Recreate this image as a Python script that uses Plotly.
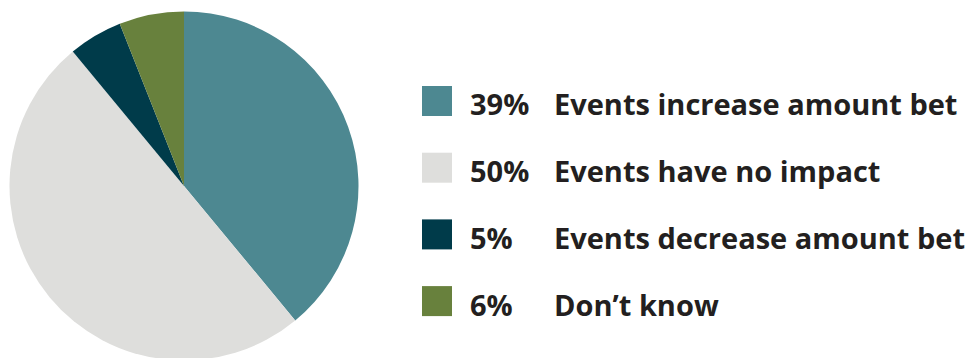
import plotly.graph_objects as go

# Survey breakdown: effect of events on amount bet
labels = [
    "Events increase amount bet",
    "Events have no impact",
    "Events decrease amount bet",
    "Don\u2019t know",
]
values = [39, 50, 5, 6]
colors = ["#4D8891", "#DEDEDC", "#003B4A", "#68813D"]

W, H = 967, 372
TEXT_COLOR = "#231F20"
FONT = "Open Sans"

fig = go.Figure(
    go.Pie(
        labels=labels,
        values=values,
        marker=dict(colors=colors, line=dict(width=0)),
        sort=False,
        direction="clockwise",
        rotation=0,
        textinfo="none",
        hoverinfo="label+percent",
        domain=dict(x=[9.5 / W, 358.5 / W], y=[0, 1]),
        showlegend=False,
    )
)

# Custom legend: colour square, percentage, description
row_top = 86
row_step = 66.7
sq = 30
for i, (lab, val, col) in enumerate(zip(labels, values, colors)):
    top = row_top + i * row_step
    fig.add_shape(
        type="rect",
        xref="paper", yref="paper",
        x0=422 / W, x1=(422 + sq) / W,
        y0=1 - (top + sq) / H, y1=1 - top / H,
        fillcolor=col, line=dict(width=0),
    )
    yc = 1 - (top + sq / 2 + 3) / H
    fig.add_annotation(
        x=468 / W, y=yc, xref="paper", yref="paper",
        text=f"{val}%", showarrow=False, xanchor="left", yanchor="middle",
        font=dict(family=FONT, size=29, color=TEXT_COLOR, weight=700),
    )
    fig.add_annotation(
        x=552 / W, y=yc, xref="paper", yref="paper",
        text=lab, showarrow=False, xanchor="left", yanchor="middle",
        font=dict(family=FONT, size=29, color=TEXT_COLOR, weight=700),
    )

fig.update_layout(
    width=W, height=H,
    margin=dict(l=0, r=0, t=0, b=0),
    paper_bgcolor="white",
    plot_bgcolor="white",
)

fig.write_html(
    "out.html",
    post_script="document.documentElement.style.overflow='hidden';document.body.style.overflow='hidden';",
)
